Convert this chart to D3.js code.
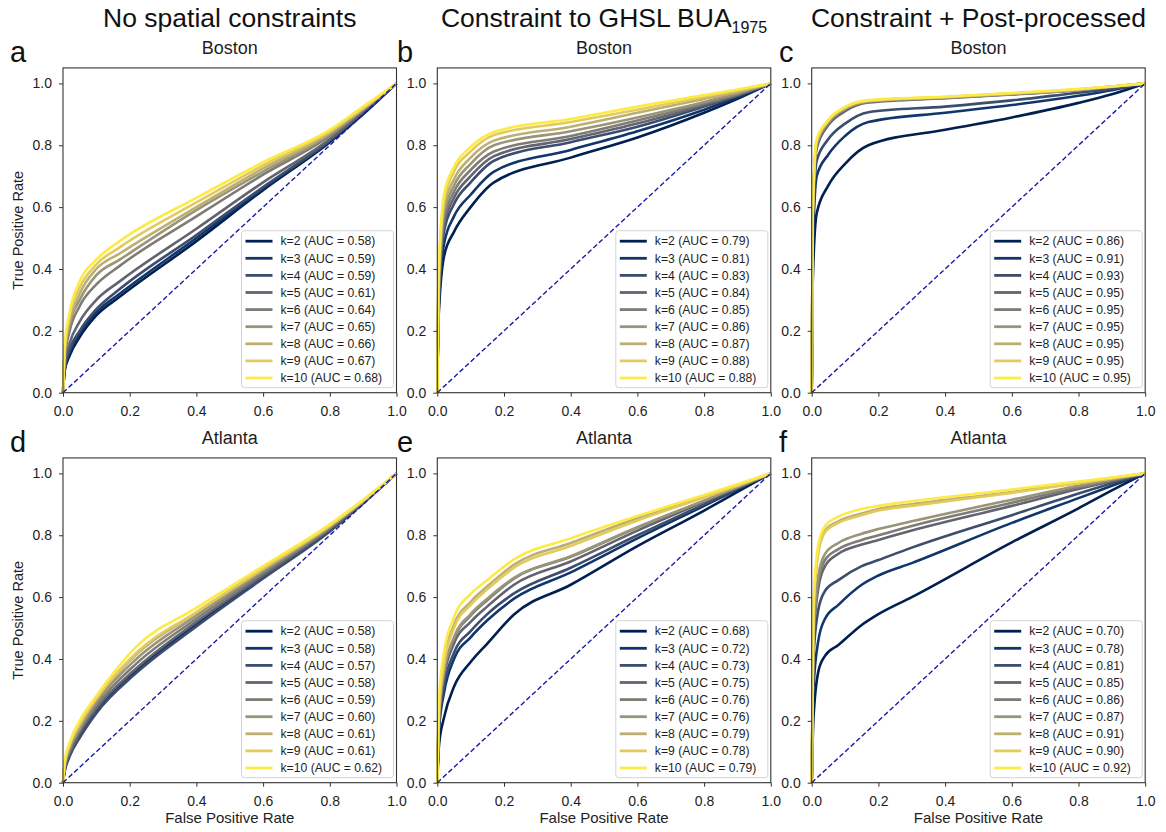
<!DOCTYPE html>
<html><head><meta charset="utf-8">
<script src="https://cdn.jsdelivr.net/npm/d3@7"></script>
<style>
body{margin:0;background:#fff;}
svg{display:block;font-family:"Liberation Sans",Arial,sans-serif;}
</style>
</head><body>
<svg id="chart" width="1166" height="832"></svg>
<script>
// ---------------- data ----------------
const kValues = [2, 3, 4, 5, 6, 7, 8, 9, 10];
const columnTitles = ["No spatial constraints", "Constraint to GHSL BUA", "Constraint + Post-processed"];
const titleSubscript = "1975";
const xTicks = [0, 0.2, 0.4, 0.6, 0.8, 1.0];
const yTicks = [0, 0.2, 0.4, 0.6, 0.8, 1.0];

// a: Boston, no spatial constraints
const fprBostonNone = [0, 0.005, 0.02, 0.05, 0.1, 0.17, 0.4, 0.6, 0.8, 0.9, 1];
const tprBostonNone = [
  [0, 0.07, 0.12, 0.18, 0.25, 0.31, 0.49, 0.655, 0.81, 0.9, 1],
  [0, 0.075, 0.13, 0.19, 0.26, 0.32, 0.50, 0.66, 0.815, 0.905, 1],
  [0, 0.08, 0.14, 0.20, 0.27, 0.335, 0.51, 0.665, 0.815, 0.905, 1],
  [0, 0.09, 0.16, 0.23, 0.30, 0.36, 0.53, 0.68, 0.82, 0.91, 1],
  [0, 0.11, 0.20, 0.28, 0.35, 0.41, 0.57, 0.705, 0.83, 0.915, 1],
  [0, 0.12, 0.22, 0.30, 0.38, 0.43, 0.59, 0.715, 0.835, 0.915, 1],
  [0, 0.13, 0.23, 0.32, 0.40, 0.45, 0.60, 0.725, 0.84, 0.92, 1],
  [0, 0.14, 0.25, 0.34, 0.415, 0.47, 0.615, 0.735, 0.845, 0.92, 1],
  [0, 0.15, 0.26, 0.36, 0.43, 0.49, 0.63, 0.745, 0.85, 0.925, 1]
];
const aucBostonNone = [0.58, 0.59, 0.59, 0.61, 0.64, 0.65, 0.66, 0.67, 0.68];

// b: Boston, constraint to GHSL BUA1975
const fprBostonGhsl = [0, 0.003, 0.02, 0.05, 0.1, 0.17, 0.4, 0.6, 0.8, 0.9, 1];
const tprBostonGhsl = [
  [0, 0.22, 0.44, 0.52, 0.60, 0.68, 0.76, 0.825, 0.905, 0.95, 1],
  [0, 0.24, 0.48, 0.57, 0.64, 0.715, 0.785, 0.845, 0.915, 0.955, 1],
  [0, 0.26, 0.52, 0.61, 0.68, 0.75, 0.81, 0.86, 0.925, 0.96, 1],
  [0, 0.27, 0.54, 0.63, 0.70, 0.765, 0.82, 0.87, 0.93, 0.962, 1],
  [0, 0.28, 0.56, 0.65, 0.72, 0.78, 0.83, 0.88, 0.935, 0.965, 1],
  [0, 0.30, 0.58, 0.67, 0.74, 0.80, 0.845, 0.89, 0.94, 0.968, 1],
  [0, 0.32, 0.60, 0.69, 0.76, 0.815, 0.86, 0.905, 0.95, 0.972, 1],
  [0, 0.34, 0.62, 0.715, 0.78, 0.833, 0.875, 0.915, 0.957, 0.977, 1],
  [0, 0.35, 0.64, 0.73, 0.795, 0.843, 0.885, 0.925, 0.962, 0.98, 1]
];
const aucBostonGhsl = [0.79, 0.81, 0.83, 0.84, 0.85, 0.86, 0.87, 0.88, 0.88];

// c: Boston, constraint + post-processed
const fprBostonPost = [0, 0.003, 0.015, 0.05, 0.1, 0.17, 0.4, 0.6, 0.8, 0.9, 1];
const tprBostonPost = [
  [0, 0.35, 0.58, 0.67, 0.74, 0.80, 0.85, 0.89, 0.937, 0.965, 1],
  [0, 0.45, 0.70, 0.77, 0.83, 0.875, 0.905, 0.93, 0.96, 0.978, 1],
  [0, 0.50, 0.75, 0.82, 0.87, 0.907, 0.925, 0.945, 0.97, 0.982, 1],
  [0, 0.55, 0.79, 0.865, 0.91, 0.938, 0.952, 0.964, 0.978, 0.988, 1],
  [0, 0.56, 0.80, 0.87, 0.915, 0.94, 0.953, 0.965, 0.979, 0.989, 1],
  [0, 0.57, 0.805, 0.875, 0.918, 0.942, 0.954, 0.966, 0.98, 0.989, 1],
  [0, 0.57, 0.81, 0.878, 0.92, 0.943, 0.955, 0.967, 0.98, 0.99, 1],
  [0, 0.58, 0.815, 0.88, 0.922, 0.944, 0.956, 0.968, 0.981, 0.99, 1],
  [0, 0.58, 0.82, 0.882, 0.924, 0.946, 0.957, 0.969, 0.982, 0.99, 1]
];
const aucBostonPost = [0.86, 0.91, 0.93, 0.95, 0.95, 0.95, 0.95, 0.95, 0.95];

// d: Atlanta, no spatial constraints
const fprAtlantaNone = [0, 0.005, 0.02, 0.05, 0.1, 0.22, 0.4, 0.6, 0.8, 0.9, 1];
const tprAtlantaNone = [
  [0, 0.04, 0.09, 0.15, 0.23, 0.36, 0.51, 0.665, 0.815, 0.905, 1],
  [0, 0.045, 0.095, 0.155, 0.235, 0.365, 0.515, 0.668, 0.817, 0.906, 1],
  [0, 0.035, 0.085, 0.145, 0.225, 0.355, 0.505, 0.66, 0.812, 0.903, 1],
  [0, 0.045, 0.095, 0.16, 0.24, 0.37, 0.52, 0.67, 0.82, 0.907, 1],
  [0, 0.05, 0.105, 0.17, 0.25, 0.385, 0.53, 0.678, 0.824, 0.909, 1],
  [0, 0.055, 0.11, 0.175, 0.26, 0.40, 0.54, 0.685, 0.827, 0.91, 1],
  [0, 0.06, 0.12, 0.185, 0.27, 0.415, 0.55, 0.69, 0.83, 0.912, 1],
  [0, 0.062, 0.122, 0.19, 0.272, 0.42, 0.552, 0.692, 0.831, 0.912, 1],
  [0, 0.07, 0.13, 0.20, 0.28, 0.44, 0.565, 0.70, 0.835, 0.915, 1]
];
const aucAtlantaNone = [0.58, 0.58, 0.57, 0.58, 0.59, 0.60, 0.61, 0.61, 0.62];

// e: Atlanta, constraint to GHSL BUA1975
const fprAtlantaGhsl = [0, 0.005, 0.02, 0.05, 0.1, 0.15, 0.23, 0.4, 0.6, 0.8, 0.9, 1];
const tprAtlantaGhsl = [
  [0, 0.12, 0.21, 0.31, 0.39, 0.45, 0.544, 0.64, 0.765, 0.88, 0.94, 1],
  [0, 0.17, 0.29, 0.40, 0.47, 0.525, 0.595, 0.68, 0.79, 0.895, 0.948, 1],
  [0, 0.18, 0.31, 0.42, 0.49, 0.545, 0.612, 0.695, 0.80, 0.90, 0.95, 1],
  [0, 0.20, 0.34, 0.45, 0.52, 0.57, 0.64, 0.715, 0.815, 0.908, 0.954, 1],
  [0, 0.21, 0.355, 0.465, 0.54, 0.59, 0.66, 0.73, 0.825, 0.912, 0.956, 1],
  [0, 0.21, 0.355, 0.47, 0.545, 0.595, 0.662, 0.732, 0.826, 0.912, 0.956, 1],
  [0, 0.24, 0.39, 0.51, 0.585, 0.635, 0.705, 0.775, 0.855, 0.926, 0.963, 1],
  [0, 0.23, 0.38, 0.50, 0.575, 0.625, 0.695, 0.765, 0.848, 0.922, 0.96, 1],
  [0, 0.27, 0.42, 0.535, 0.61, 0.655, 0.722, 0.79, 0.862, 0.93, 0.965, 1]
];
const aucAtlantaGhsl = [0.68, 0.72, 0.73, 0.75, 0.76, 0.76, 0.79, 0.78, 0.79];

// f: Atlanta, constraint + post-processed
const fprAtlantaPost = [0, 0.005, 0.02, 0.04, 0.08, 0.15, 0.2, 0.3, 0.6, 0.8, 0.9, 1];
const tprAtlantaPost = [
  [0, 0.20, 0.36, 0.41, 0.445, 0.51, 0.545, 0.60, 0.777, 0.887, 0.945, 1],
  [0, 0.30, 0.46, 0.53, 0.575, 0.64, 0.67, 0.71, 0.84, 0.92, 0.96, 1],
  [0, 0.40, 0.56, 0.62, 0.655, 0.70, 0.72, 0.76, 0.865, 0.935, 0.968, 1],
  [0, 0.45, 0.63, 0.70, 0.74, 0.77, 0.785, 0.815, 0.895, 0.95, 0.975, 1],
  [0, 0.46, 0.65, 0.72, 0.755, 0.785, 0.80, 0.83, 0.905, 0.955, 0.978, 1],
  [0, 0.48, 0.67, 0.74, 0.775, 0.805, 0.82, 0.845, 0.915, 0.96, 0.98, 1],
  [0, 0.55, 0.75, 0.815, 0.845, 0.87, 0.885, 0.90, 0.94, 0.97, 0.985, 1],
  [0, 0.54, 0.745, 0.81, 0.84, 0.865, 0.88, 0.895, 0.937, 0.968, 0.984, 1],
  [0, 0.57, 0.77, 0.83, 0.86, 0.885, 0.895, 0.91, 0.948, 0.974, 0.987, 1]
];
const aucAtlantaPost = [0.70, 0.78, 0.81, 0.85, 0.86, 0.87, 0.91, 0.90, 0.92];

const panels = [
  {letter: "a", city: "Boston",  col: 0, row: 0, fpr: fprBostonNone,  tpr: tprBostonNone,  auc: aucBostonNone},
  {letter: "b", city: "Boston",  col: 1, row: 0, fpr: fprBostonGhsl,  tpr: tprBostonGhsl,  auc: aucBostonGhsl},
  {letter: "c", city: "Boston",  col: 2, row: 0, fpr: fprBostonPost,  tpr: tprBostonPost,  auc: aucBostonPost},
  {letter: "d", city: "Atlanta", col: 0, row: 1, fpr: fprAtlantaNone, tpr: tprAtlantaNone, auc: aucAtlantaNone},
  {letter: "e", city: "Atlanta", col: 1, row: 1, fpr: fprAtlantaGhsl, tpr: tprAtlantaGhsl, auc: aucAtlantaGhsl},
  {letter: "f", city: "Atlanta", col: 2, row: 1, fpr: fprAtlantaPost, tpr: tprAtlantaPost, auc: aucAtlantaPost}
];

// ---------------- layout ----------------
const colLeft = [63, 437.3, 811.7];
const letterX = [10, 397, 779];
const plotW = 333.5;
const rowBottom = [392.7, 782.7];
const unitH = 309.3;              // pixels per 1.0 of TPR
const plotH = unitH * 1.05;       // ylim [0, 1.05]
const textColor = "#1e1e1e";
const color = d3.scaleSequential(d3.interpolateCividis).domain([0, kValues.length - 1]);

const svg = d3.select("#chart");

// column titles
columnTitles.forEach((t, i) => {
  const cx = colLeft[i] + plotW / 2;
  const txt = svg.append("text")
    .attr("x", cx).attr("y", 27)
    .attr("text-anchor", "middle")
    .attr("font-size", 26.5)
    .attr("fill", "#111")
    .text(t);
  if (i === 1) {
    txt.append("tspan").attr("font-size", 16).attr("dy", 6).text(titleSubscript);
  }
});

panels.forEach(p => {
  const x0 = colLeft[p.col];
  const yb = rowBottom[p.row];
  const x = d3.scaleLinear().domain([0, 1]).range([x0, x0 + plotW]);
  const y = d3.scaleLinear().domain([0, 1.05]).range([yb, yb - plotH]);
  const g = svg.append("g");

  // panel letter
  g.append("text")
    .attr("x", letterX[p.col]).attr("y", yb - plotH - 6)
    .attr("font-size", 29).attr("fill", "#111")
    .text(p.letter);

  // city subtitle
  g.append("text")
    .attr("x", x0 + plotW / 2).attr("y", yb - plotH - 13.5)
    .attr("text-anchor", "middle").attr("font-size", 18).attr("fill", textColor)
    .text(p.city);

  // curves
  const line = d3.line().curve(d3.curveMonotoneX)
    .x(d => x(d[0])).y(d => y(d[1]));
  const clip = "clip-" + p.letter;
  g.append("clipPath").attr("id", clip)
    .append("rect").attr("x", x0 - 1.5).attr("y", yb - plotH).attr("width", plotW + 3).attr("height", plotH + 1.5);
  const curves = g.append("g").attr("clip-path", `url(#${clip})`);
  p.tpr.forEach((series, i) => {
    const pts = p.fpr.map((f, j) => [f, series[j]]);
    curves.append("path")
      .attr("d", line(pts))
      .attr("fill", "none")
      .attr("stroke", color(i))
      .attr("stroke-width", 2.6)
      .attr("stroke-linejoin", "round");
  });
  // chance diagonal
  curves.append("line")
    .attr("x1", x(0)).attr("y1", y(0)).attr("x2", x(1)).attr("y2", y(1))
    .attr("stroke", "#1a1aa6").attr("stroke-width", 1.4)
    .attr("stroke-dasharray", "5,2.6");

  // axes
  const xAxis = d3.axisBottom(x).tickValues(xTicks).tickFormat(d3.format(".1f"))
    .tickSize(4).tickPadding(9);
  const yAxis = d3.axisLeft(y).tickValues(yTicks).tickFormat(d3.format(".1f"))
    .tickSize(4).tickPadding(7);
  const gx = g.append("g").attr("transform", `translate(0,${yb})`).call(xAxis);
  const gy = g.append("g").attr("transform", `translate(${x0},0)`).call(yAxis);
  [gx, gy].forEach(a => {
    a.select(".domain").remove();
    a.selectAll(".tick line").attr("stroke", "#333").attr("stroke-width", 1);
    a.selectAll(".tick text").attr("font-size", 14).attr("fill", textColor)
      .attr("font-family", "'Liberation Sans', Arial, sans-serif");
  });

  // frame
  g.append("rect")
    .attr("x", x0).attr("y", yb - plotH).attr("width", plotW).attr("height", plotH)
    .attr("fill", "none").attr("stroke", "#333").attr("stroke-width", 1.1);

  // axis labels
  if (p.col === 0) {
    g.append("text")
      .attr("transform", `translate(23,${yb - plotH / 2}) rotate(-90)`)
      .attr("text-anchor", "middle").attr("font-size", 14.5).attr("fill", textColor)
      .text("True Positive Rate");
  }
  if (p.row === 1) {
    g.append("text")
      .attr("x", x0 + plotW / 2).attr("y", yb + 40)
      .attr("text-anchor", "middle").attr("font-size", 15).attr("fill", textColor)
      .text("False Positive Rate");
  }

  // legend
  const lw = 152, lh = 157;
  const lx = x0 + plotW - 3 - lw;
  const ly = yb - 5 - lh;
  const lg = g.append("g").attr("transform", `translate(${lx},${ly})`);
  lg.append("rect").attr("width", lw).attr("height", lh).attr("rx", 3)
    .attr("fill", "#fff").attr("fill-opacity", 0.85)
    .attr("stroke", "#d4d4d4").attr("stroke-width", 1);
  kValues.forEach((k, i) => {
    const cy = 10.5 + i * 17.1;
    lg.append("line").attr("x1", 4).attr("x2", 31).attr("y1", cy).attr("y2", cy)
      .attr("stroke", color(i)).attr("stroke-width", 2.8);
    lg.append("text").attr("x", 39).attr("y", cy + 4.3)
      .attr("font-size", 12.2).attr("fill", textColor)
      .text(`k=${k} (AUC = ${d3.format(".2f")(p.auc[i])})`);
  });
});
</script>
</body></html>
